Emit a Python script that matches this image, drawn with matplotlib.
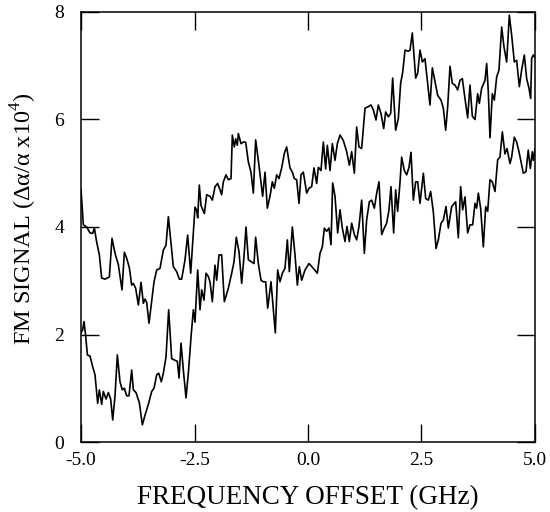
import numpy as np
import matplotlib
matplotlib.use("Agg")
import matplotlib.pyplot as plt

plt.rcParams['font.family'] = ['Liberation Serif', 'DejaVu Serif']
plt.rcParams['mathtext.fontset'] = 'custom'
plt.rcParams['mathtext.rm'] = 'Liberation Serif'

# upper trace
x_upper = [-5.0, -4.985, -4.949, -4.875, -4.802, -4.743, -4.706, -4.655, -4.596, -4.545,
           -4.471, -4.376, -4.317, -4.251, -4.178, -4.097, -4.045, -3.994, -3.935, -3.884,
           -3.847, -3.796, -3.737, -3.678, -3.627, -3.590, -3.554, -3.502, -3.443, -3.392,
           -3.333, -3.260, -3.187, -3.128, -3.076, -3.040, -2.966, -2.893, -2.834, -2.783,
           -2.709, -2.651, -2.584, -2.489, -2.452, -2.430, -2.394, -2.357, -2.283, -2.232,
           -2.159, -2.107, -2.048, -1.990, -1.938, -1.902, -1.865, -1.806, -1.755, -1.696,
           -1.667, -1.623, -1.593, -1.557, -1.535, -1.476, -1.424, -1.373, -1.314, -1.256,
           -1.204, -1.153, -1.094, -1.043, -0.999, -0.947, -0.896, -0.837, -0.786, -0.742,
           -0.690, -0.639, -0.580, -0.521, -0.470, -0.397, -0.345, -0.301, -0.250, -0.198,
           -0.154, -0.103, -0.029, 0.022, 0.081, 0.132, 0.191, 0.228, 0.286, 0.338,
           0.389, 0.426, 0.485, 0.536, 0.595, 0.646, 0.705, 0.778, 0.852, 0.911,
           0.962, 1.021, 1.072, 1.123, 1.182, 1.256, 1.329, 1.388, 1.439, 1.498,
           1.549, 1.608, 1.667, 1.711, 1.770, 1.821, 1.865, 1.931, 1.990, 2.041,
           2.085, 2.137, 2.210, 2.247, 2.298, 2.372, 2.416, 2.467, 2.519, 2.577,
           2.636, 2.687, 2.739, 2.798, 2.856, 2.930, 2.981, 3.033, 3.077, 3.128,
           3.179, 3.238, 3.297, 3.348, 3.400, 3.458, 3.517, 3.568, 3.620, 3.679,
           3.737, 3.774, 3.825, 3.899, 3.936, 3.972, 4.009, 4.060, 4.104, 4.156,
           4.207, 4.266, 4.317, 4.376, 4.435, 4.486, 4.545, 4.596, 4.655, 4.706,
           4.765, 4.817, 4.868, 4.905, 4.927, 4.964, 5.0]
y_upper = [4.70, 4.50, 4.04, 4.00, 3.89, 3.88, 3.98, 3.72, 3.48, 3.05,
           3.03, 3.07, 3.79, 3.51, 3.30, 2.83, 3.53, 3.42, 3.24, 2.92,
           2.95, 2.86, 2.55, 2.97, 2.58, 2.66, 2.60, 2.21, 2.63, 2.98,
           3.20, 3.23, 3.57, 3.66, 4.19, 3.88, 3.26, 3.17, 3.03, 3.03,
           3.39, 3.85, 3.14, 4.37, 4.31, 4.17, 4.78, 4.40, 4.25, 4.60,
           4.57, 4.50, 4.75, 4.81, 4.69, 4.60, 4.84, 4.97, 4.88, 4.90,
           5.71, 5.49, 5.64, 5.52, 5.74, 5.55, 5.58, 5.58, 5.21, 5.02,
           4.63, 5.62, 5.24, 4.88, 4.57, 5.02, 4.35, 4.57, 4.84, 4.72,
           4.97, 4.90, 5.10, 5.37, 5.49, 5.10, 5.02, 4.90, 4.88, 4.44,
           4.97, 5.02, 4.63, 4.72, 4.75, 5.10, 4.81, 5.11, 5.05, 5.58,
           5.08, 5.52, 5.05, 5.55, 5.24, 5.55, 5.71, 5.61, 5.40, 5.15,
           5.40, 5.00, 5.86, 5.49, 5.46, 6.21, 6.24, 6.27, 6.18, 5.99,
           6.27, 6.11, 5.83, 6.14, 6.05, 6.11, 6.77, 5.80, 6.02, 6.68,
           6.87, 7.29, 7.27, 7.29, 7.61, 6.77, 6.86, 7.29, 7.07, 7.13,
           6.67, 6.27, 6.96, 6.70, 6.45, 6.36, 6.21, 5.80, 6.24, 6.99,
           6.67, 6.64, 6.55, 6.73, 6.76, 6.39, 6.03, 6.64, 6.06, 6.00,
           6.48, 6.30, 6.58, 6.73, 7.04, 6.51, 5.66, 6.48, 6.36, 6.79,
           6.92, 7.72, 7.35, 7.07, 7.94, 7.57, 7.07, 7.10, 6.61, 6.92,
           7.20, 6.76, 6.58, 6.39, 7.14, 7.20, 7.15]

# lower trace
x_lower = [-5.0, -4.963, -4.934, -4.897, -4.860, -4.802, -4.743, -4.692, -4.633, -4.596,
           -4.545, -4.508, -4.449, -4.398, -4.347, -4.302, -4.251, -4.200, -4.141, -4.090,
           -4.045, -3.994, -3.943, -3.884, -3.847, -3.789, -3.715, -3.649, -3.590, -3.517,
           -3.443, -3.392, -3.333, -3.289, -3.231, -3.187, -3.128, -3.069, -3.003, -2.930,
           -2.878, -2.841, -2.797, -2.746, -2.687, -2.636, -2.577, -2.526, -2.489, -2.430,
           -2.379, -2.342, -2.291, -2.247, -2.195, -2.159, -2.107, -2.048, -2.012, -1.960,
           -1.902, -1.843, -1.755, -1.681, -1.630, -1.579, -1.520, -1.461, -1.410, -1.366,
           -1.314, -1.241, -1.189, -1.153, -1.094, -1.035, -0.984, -0.932, -0.888, -0.815,
           -0.756, -0.720, -0.668, -0.617, -0.565, -0.507, -0.455, -0.411, -0.345, -0.286,
           -0.235, -0.191, -0.139, -0.066, 0.022, 0.118, 0.206, 0.264, 0.316, 0.360,
           0.411, 0.463, 0.507, 0.543, 0.595, 0.654, 0.705, 0.756, 0.815, 0.859,
           0.911, 0.962, 1.021, 1.072, 1.123, 1.182, 1.241, 1.292, 1.351, 1.402,
           1.461, 1.513, 1.564, 1.623, 1.681, 1.733, 1.784, 1.828, 1.887, 1.931,
           1.975, 2.026, 2.063, 2.122, 2.173, 2.225, 2.269, 2.320, 2.372, 2.416,
           2.467, 2.541, 2.592, 2.651, 2.702, 2.761, 2.820, 2.871, 2.930, 2.981,
           3.040, 3.091, 3.165, 3.253, 3.311, 3.363, 3.407, 3.458, 3.517, 3.568,
           3.627, 3.679, 3.715, 3.752, 3.803, 3.862, 3.914, 3.958, 4.009, 4.060,
           4.119, 4.178, 4.229, 4.281, 4.339, 4.383, 4.450, 4.486, 4.545, 4.596,
           4.648, 4.706, 4.743, 4.802, 4.852, 4.897, 4.941, 4.964, 5.0]
y_lower = [2.03, 2.09, 2.24, 1.97, 1.62, 1.60, 1.40, 1.25, 0.72, 0.97,
           0.70, 0.94, 0.80, 0.92, 0.80, 0.41, 0.86, 1.62, 1.12, 0.97,
           1.00, 0.86, 0.86, 1.34, 0.97, 0.92, 0.73, 0.32, 0.50, 0.70,
           0.94, 1.00, 1.25, 1.28, 1.12, 1.28, 1.58, 2.46, 1.55, 1.52,
           1.50, 1.19, 1.84, 1.34, 0.82, 1.28, 1.95, 2.46, 2.23, 3.20,
           2.46, 2.83, 2.64, 3.14, 3.08, 2.98, 2.61, 3.29, 3.01, 3.48,
           3.48, 2.61, 2.86, 3.14, 3.35, 3.81, 3.54, 2.95, 3.45, 4.00,
           3.39, 3.35, 3.32, 3.81, 3.32, 3.01, 2.98, 2.98, 2.49, 2.98,
           2.40, 2.03, 3.20, 2.98, 3.14, 3.23, 3.76, 3.17, 4.00, 3.48,
           2.92, 3.26, 3.01, 3.20, 3.32, 3.23, 3.14, 3.51, 3.63, 3.98,
           3.92, 3.98, 3.67, 4.82, 4.57, 3.89, 4.32, 3.98, 3.73, 4.01,
           3.73, 4.07, 3.86, 3.76, 4.01, 4.50, 3.51, 4.13, 4.47, 4.50,
           4.35, 4.63, 4.84, 3.86, 3.98, 4.07, 4.32, 4.75, 3.89, 4.69,
           4.29, 4.82, 5.30, 5.05, 4.97, 5.11, 5.39, 4.50, 4.84, 4.84,
           4.44, 5.00, 4.53, 4.50, 4.66, 4.28, 3.60, 3.76, 4.07, 4.13,
           4.38, 3.98, 4.38, 4.47, 3.80, 4.75, 4.32, 4.56, 3.89, 4.04,
           4.04, 4.44, 4.35, 4.63, 4.35, 3.63, 4.38, 4.29, 4.88, 4.84,
           4.66, 5.25, 5.30, 5.77, 5.36, 5.46, 5.18, 5.30, 5.67, 5.58,
           5.40, 5.15, 5.00, 5.03, 5.43, 5.09, 5.40, 5.24, 5.45]

xticks = [-5.0, -2.5, 0.0, 2.5, 5.0]
yticks = [0, 2, 4, 6, 8]

fig = plt.figure(figsize=(5.5, 5.12), dpi=100)
ax = fig.add_axes([0.1473, 0.1367, 0.8254, 0.8399])

ax.plot(x_upper, y_upper, color='black', lw=1.2)
ax.plot(x_lower, y_lower, color='black', lw=1.2)

ax.set_xlim(-5, 5)
ax.set_ylim(0, 8)
ax.set_xticks(xticks)
ax.set_xticklabels(["%.1f" % v for v in xticks])
ax.set_yticks(yticks)
ax.set_yticklabels([str(v) for v in yticks])
ax.tick_params(direction='in', length=13, width=1.0, top=True, right=True,
               labelsize=14, color='black')
ax.tick_params(axis='x', pad=7)
ax.tick_params(axis='y', pad=12)
for s in ax.spines.values():
    s.set_linewidth(1.1)

ax.set_xlabel("FREQUENCY OFFSET (GHz)", fontsize=19.5, va='center')
ax.set_ylabel("FM SIGNAL (Δα/α x10$^4$)", fontsize=17.5, va='center')
ax.xaxis.set_label_coords(0.5, -0.130)
ax.yaxis.set_label_coords(-0.126, 0.52)

plt.savefig("out.png", dpi=100)
